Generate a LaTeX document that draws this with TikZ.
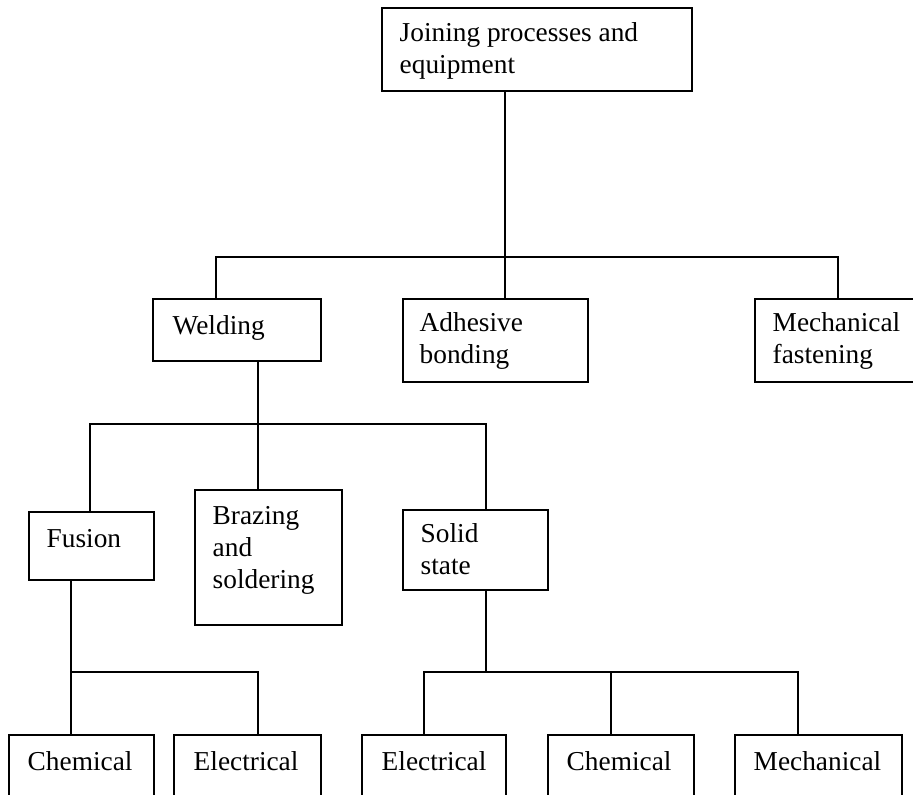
\documentclass[tikz,border=0pt]{standalone}
\usepackage{fontspec}
\setmainfont{Liberation Serif}
\usetikzlibrary{fit,calc}
\tikzset{
  box/.style={draw, line width=0.8pt, inner sep=0pt, rectangle},
  lbl/.style={anchor=north west, inner sep=0pt, align=left,
    font=\fontsize{20.5}{24}\selectfont, execute at begin node=\strut},
  conn/.style={line width=1.1pt, line cap=rect}
}
\begin{document}
\begin{tikzpicture}[x=0.75pt, y=-0.75pt]
\useasboundingbox (0,0) rectangle (913,795);
\clip (0,0) rectangle (913,795);
% boxes
\node[box, fit={(382,8) (692,91)}] (top) {};
\node[box, fit={(153,299) (321,361)}] (weld) {};
\node[box, fit={(403,299) (588,382)}] (adh) {};
\node[box, fit={(755,299) (925,382)}] (mech) {};
\node[box, fit={(29,512) (154,580)}] (fus) {};
\node[box, fit={(195,490) (342,625)}] (braz) {};
\node[box, fit={(403,510) (548,590)}] (solid) {};
\node[box, fit={(9,735) (154,815)}] (chemA) {};
\node[box, fit={(174,735) (321,815)}] (elecA) {};
\node[box, fit={(362,735) (506,815)}] (elecB) {};
\node[box, fit={(548,735) (694,815)}] (chemB) {};
\node[box, fit={(735,735) (902,815)}] (mechB) {};
% labels (first baseline about 36px below the box top)
\node[lbl] (ttop) at ($(top.north west)+(18,14.6)$) {Joining processes and\\equipment};
\node[lbl] (tweld) at ($(weld.north west)+(20,13.6)$) {Welding};
\node[lbl] (tadh) at ($(adh.north west)+(17,13.6)$) {Adhesive\\bonding};
\node[lbl] (tmech) at ($(mech.north west)+(18,13.6)$) {Mechanical\\fastening};
\node[lbl] (tfus) at ($(fus.north west)+(18,13.6)$) {Fusion};
\node[lbl] (tbraz) at ($(braz.north west)+(18,16.6)$) {Brazing\\and\\soldering};
\node[lbl] (tsolid) at ($(solid.north west)+(18,13.6)$) {Solid\\state};
\node[lbl] (tchemA) at ($(chemA.north west)+(19,13.6)$) {Chemical};
\node[lbl] (telecA) at ($(elecA.north west)+(20,13.6)$) {Electrical};
\node[lbl] (telecB) at ($(elecB.north west)+(20,13.6)$) {Electrical};
\node[lbl] (tchemB) at ($(chemB.north west)+(19,13.6)$) {Chemical};
\node[lbl] (tmechB) at ($(mechB.north west)+(19,13.6)$) {Mechanical};
% junction coordinates
\coordinate (j1) at (505,257);
\coordinate (j2) at (258,424);
\coordinate (j3) at (71,672);
\coordinate (j4) at (486,672);
% level 1
\draw[conn] (top.south -| j1) -- (j1);
\draw[conn] (weld.north -| 216,0) |- (j1);
\draw[conn] (j1) -| (mech.north -| 838,0);
\draw[conn] (j1) -- (adh.north -| j1);
% level 2
\draw[conn] (weld.south -| j2) -- (braz.north -| j2);
\draw[conn] (fus.north -| 90,0) |- (j2);
\draw[conn] (j2) -| (solid.north -| 486,0);
% level 3 fusion
\draw[conn] (fus.south -| j3) -- (chemA.north -| j3);
\draw[conn] (j3) -| (elecA.north -| 258,0);
% level 3 solid
\draw[conn] (solid.south -| j4) -- (j4);
\draw[conn] (elecB.north -| 424,0) |- (j4);
\draw[conn] (j4) -| (mechB.north -| 798,0);
\draw[conn] (j4 -| 611,0) -- (chemB.north -| 611,0);
\end{tikzpicture}
\end{document}
